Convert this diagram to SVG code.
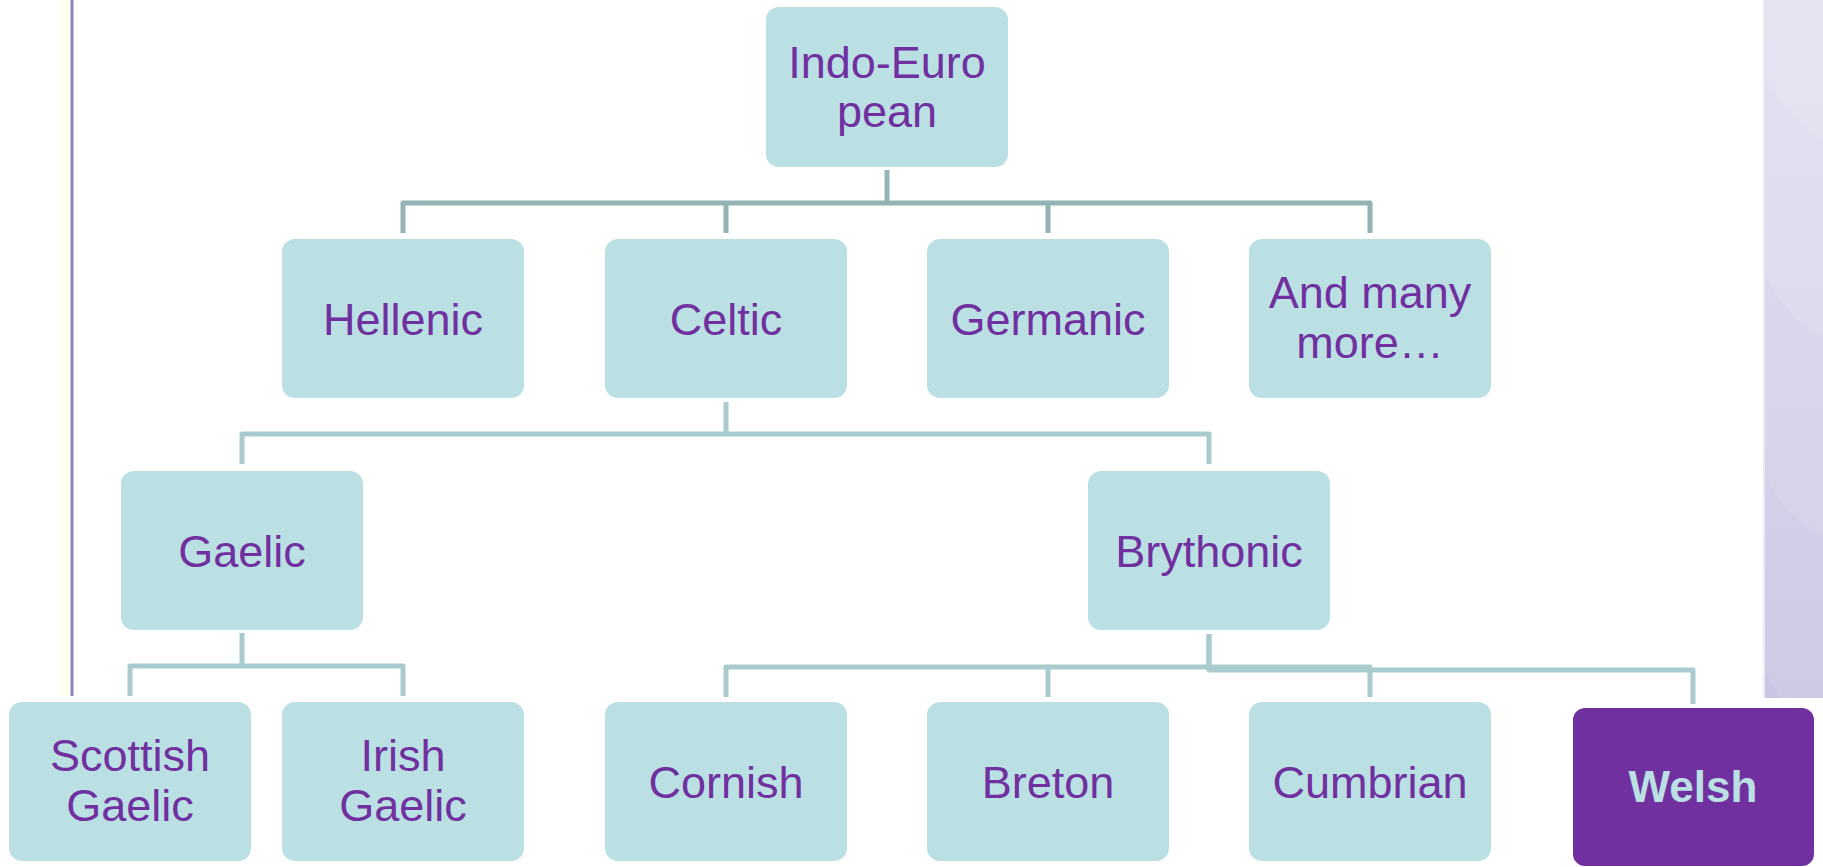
<svg xmlns="http://www.w3.org/2000/svg" width="1823" height="867" viewBox="0 0 1823 867">
<style>
.node rect{fill:#bbe0e3}
.node text{font-family:"Liberation Sans",Arial,sans-serif;font-size:45px;fill:#7030a0;text-anchor:middle}
#welsh rect{fill:#7030a0;stroke:#ffffff;stroke-width:4}
#welsh text{fill:#bbe0e3;font-weight:bold;font-size:44px}
.conn{fill:none;stroke:#a9cbcd;stroke-width:5;stroke-linejoin:round;stroke-linecap:butt}
.conn.top{stroke:#94b3b3}
.band{fill:#ffffff;fill-opacity:0.1}
</style>
<defs>
<linearGradient id="deco" x1="0" y1="0" x2="0" y2="1">
<stop offset="0" stop-color="#dad7ed"/>
<stop offset="1" stop-color="#c9c5e3"/>
</linearGradient>
</defs>
<rect x="0" y="0" width="1823" height="867" fill="#ffffff"/>
<g id="decoration">
<rect x="1763" y="0" width="60" height="698" fill="url(#deco)"/>
<path class="band" d="M1763,0 H1823 V140 A158,158 0 0,1 1763,74 Z"/>
<path class="band" d="M1763,0 H1823 V338 A158,158 0 0,1 1763,272 Z"/>
<path class="band" d="M1763,0 H1823 V538 A158,158 0 0,1 1763,472 Z"/>
<path class="band" d="M1763,0 H1823 V698 H1781 A158,158 0 0,1 1763,669 Z"/>
<line x1="1764" y1="0" x2="1764" y2="698" stroke="#eceaf6" stroke-width="2"/>
<rect x="60" y="0" width="11" height="696" fill="#fffff0"/>
<line x1="72" y1="0" x2="72" y2="696" stroke="#8c84b8" stroke-width="3"/>
</g>
<g id="connectors">
<path class="conn top" d="M887,170 V203 M403,233 V203 H1370 V233 M726,203 V233 M1048,203 V233"/>
<path class="conn" d="M726,402 V434 M242,464 V434 H1209 V464"/>
<path class="conn" d="M242,633 V666 M130,696 V666 H403 V696"/>
<path class="conn" d="M1209,634 V667 M726,697 V667 H1370 V697 M1048,667 V697"/>
<path class="conn" d="M1209,634 V670 H1693 V704"/>
</g>
<g id="indo" class="node"><rect x="766" y="7" width="242" height="160" rx="13"/><text x="887" y="78">Indo-Euro</text><text x="887" y="127">pean</text></g>
<g id="hellenic" class="node"><rect x="282" y="239" width="242" height="159" rx="13"/><text x="403" y="335">Hellenic</text></g>
<g id="celtic" class="node"><rect x="605" y="239" width="242" height="159" rx="13"/><text x="726" y="335">Celtic</text></g>
<g id="germanic" class="node"><rect x="927" y="239" width="242" height="159" rx="13"/><text x="1048" y="335">Germanic</text></g>
<g id="more" class="node"><rect x="1249" y="239" width="242" height="159" rx="13"/><text x="1370" y="308">And many</text><text x="1370" y="358">more…</text></g>
<g id="gaelic" class="node"><rect x="121" y="471" width="242" height="159" rx="13"/><text x="242" y="567">Gaelic</text></g>
<g id="brythonic" class="node"><rect x="1088" y="471" width="242" height="159" rx="13"/><text x="1209" y="567">Brythonic</text></g>
<g id="scottish" class="node"><rect x="9" y="702" width="242" height="159" rx="13"/><text x="130" y="771">Scottish</text><text x="130" y="821">Gaelic</text></g>
<g id="irish" class="node"><rect x="282" y="702" width="242" height="159" rx="13"/><text x="403" y="771">Irish</text><text x="403" y="821">Gaelic</text></g>
<g id="cornish" class="node"><rect x="605" y="702" width="242" height="159" rx="13"/><text x="726" y="798">Cornish</text></g>
<g id="breton" class="node"><rect x="927" y="702" width="242" height="159" rx="13"/><text x="1048" y="798">Breton</text></g>
<g id="cumbrian" class="node"><rect x="1249" y="702" width="242" height="159" rx="13"/><text x="1370" y="798">Cumbrian</text></g>
<g id="welsh" class="node"><rect x="1571" y="706" width="245" height="162" rx="14"/><text x="1693" y="802">Welsh</text></g>
</svg>
